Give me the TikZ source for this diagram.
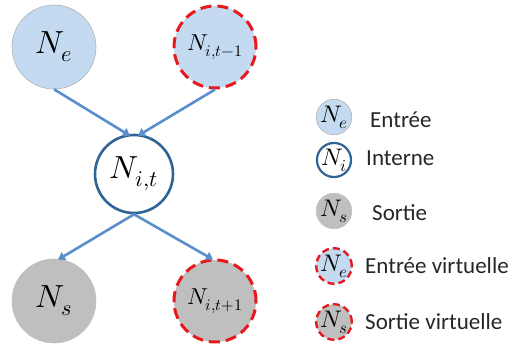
\documentclass[tikz,border=0pt]{standalone}
\usepackage{fontspec}
\usepackage{unicode-math}
\setmainfont{Carlito}
\setmathfont{Latin Modern Math}
\usetikzlibrary{arrows.meta,calc}
\definecolor{lblue}{HTML}{C3DAF0}
\definecolor{lgray}{HTML}{BFBFBF}
\definecolor{dblue}{HTML}{2E6496}
\definecolor{ablue}{HTML}{5B8FCB}
\definecolor{vred}{HTML}{E8191E}
\tikzset{
  inbox/.style={circle,fill=lblue,draw=gray!60,line width=0.6pt,inner sep=0pt},
  outbox/.style={circle,fill=lgray,draw=gray!50,line width=0.6pt,inner sep=0pt},
  intbox/.style={circle,fill=white,draw=dblue,line width=2.6pt,inner sep=0pt},
  virt/.style={draw=vred,line width=3pt,dash pattern=on 11pt off 6pt},
  link/.style={draw=ablue,line width=2.6pt,-{Triangle[width=9pt,length=7pt]}},
  legtext/.style={anchor=west,font=\fontsize{23}{25}\selectfont,text=black!85,inner sep=0pt},
  bigmath/.style={font=\fontsize{32}{34}\selectfont},
  midmath/.style={font=\fontsize{23}{25}\selectfont},
  legmath/.style={font=\fontsize{24}{25}\selectfont}
}
\begin{document}
\begin{tikzpicture}[x=1pt,y=-1pt]
\useasboundingbox (0,0) rectangle (508,350);
% main nodes
\node[inbox,bigmath,minimum size=84pt] (Ne) at (54,47) {$N_e$};
\node[inbox,virt,midmath,minimum size=82pt] (Nprev) at (215,47) {$N_{i,t-1}$};
\node[intbox,bigmath,minimum size=78pt] (Nit) at (134,174) {$N_{i,t}$};
\node[outbox,bigmath,minimum size=84pt] (Ns) at (54,301) {$N_s$};
\node[outbox,virt,midmath,minimum size=82pt] (Nnext) at (215,301) {$N_{i,t+1}$};
% connectors
\draw[link] (Ne.south) -- ([xshift=-4pt,yshift=-2pt]Nit.north);
\draw[link] (Nprev.south) -- ([xshift=4pt,yshift=-2pt]Nit.north);
\draw[link] (Nit.south) -- ([xshift=4pt,yshift=-1pt]Ns.north);
\draw[link] (Nit.south) -- ([xshift=-2pt,yshift=-1pt]Nnext.north);
% legend
\node[inbox,legmath,minimum size=33pt] (L1) at (334,117) {$N_e$};
\node[intbox,legmath,line width=2.2pt,minimum size=31pt] (L2) at (334,160) {$N_i$};
\node[outbox,legmath,minimum size=33pt] (L3) at (334,211) {$N_s$};
\node[inbox,legmath,draw=vred,line width=2.4pt,dash pattern=on 7pt off 4pt,minimum size=33pt] (L4) at (334,266) {$N_e$};
\node[outbox,legmath,draw=vred,line width=2.4pt,dash pattern=on 7pt off 4pt,minimum size=33pt] (L5) at (334,322) {$N_s$};
\node[legtext] (T1) at (370,120) {Entrée};
\node[legtext] (T2) at (366,158) {Interne};
\node[legtext] (T3) at (372,213) {Sortie};
\node[legtext] (T4) at (365,266) {Entrée virtuelle};
\node[legtext] (T5) at (365,322) {Sortie virtuelle};
\end{tikzpicture}
\end{document}
